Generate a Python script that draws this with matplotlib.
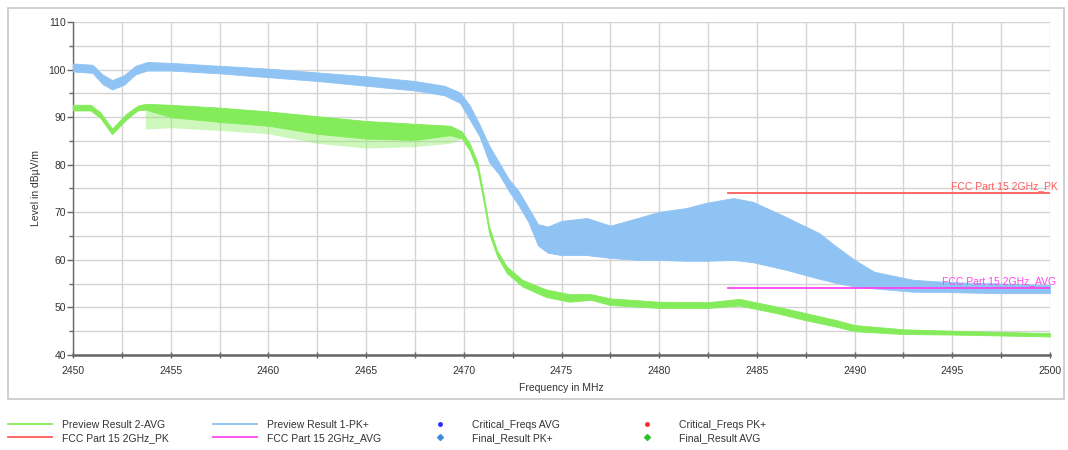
import matplotlib
matplotlib.use("Agg")
import matplotlib.pyplot as plt
from matplotlib.lines import Line2D
from matplotlib.patches import Rectangle
from matplotlib.ticker import MultipleLocator

plt.rcParams['font.family'] = ['Liberation Sans', 'DejaVu Sans']

# ---- data ----
pk_freq = [2450, 2451, 2451.5, 2452.0, 2452.6, 2453.2, 2453.8, 2455, 2457.5, 2460,
           2462.5, 2465, 2467.5, 2469, 2469.8, 2470.3, 2470.8, 2471.3, 2471.8, 2472.3,
           2472.8, 2473.3, 2473.8, 2474.3, 2475, 2476.3, 2477.5, 2478.9, 2480, 2481.4,
           2482.4, 2483.8, 2484.8, 2486.5, 2488.2, 2489, 2490, 2491, 2493, 2495,
           2497.5, 2500]
pk_top = [101.3, 101.0, 99.0, 97.8, 98.8, 100.8, 101.6, 101.4, 100.8, 100.2,
          99.4, 98.6, 97.6, 96.6, 95.2, 92.5, 88.5, 84.0, 80.5, 77.0,
          74.5, 71.0, 67.5, 67.0, 68.2, 68.8, 67.2, 68.8, 70.1, 70.9,
          72.0, 73.0, 72.2, 69.0, 65.6, 63.0, 60.0, 57.5, 55.8, 55.3,
          55.0, 54.7]
pk_bot = [99.6, 99.3, 97.0, 95.8, 96.8, 99.0, 99.8, 99.8, 99.2, 98.4,
          97.6, 96.6, 95.6, 94.6, 93.0, 89.5, 86.0, 80.5, 78.0, 74.5,
          71.5, 68.0, 63.0, 61.5, 61.0, 61.0, 60.4, 60.0, 60.0, 59.8,
          59.8, 60.0, 59.5, 57.9, 56.0, 55.2, 54.4, 54.0, 53.3, 53.2,
          53.0, 53.0]

avg_freq = [2450, 2450.9, 2451.4, 2452.0, 2452.7, 2453.3, 2453.7, 2455, 2457.5, 2460,
            2462.5, 2465, 2467.5, 2469.3, 2469.9, 2470.3, 2470.7, 2471.0, 2471.3, 2471.7,
            2472.2, 2473.0, 2474.2, 2475.4, 2476.5, 2477.5, 2480, 2482.5, 2484.1, 2486,
            2487.5, 2489, 2490, 2492.5, 2495, 2500]
avg_top = [92.6, 92.6, 91.0, 87.6, 90.6, 92.4, 92.8, 92.6, 92.0, 91.2,
           90.2, 89.2, 88.6, 88.2, 87.0, 84.5, 80.5, 74.0, 67.0, 62.0,
           58.6, 55.8, 53.8, 52.8, 52.8, 51.9, 51.2, 51.1, 51.8, 50.2,
           48.8, 47.4, 46.3, 45.4, 45.1, 44.6]
avg_bot = [91.4, 91.4, 89.8, 86.4, 89.4, 91.4, 91.6, 90.0, 89.0, 88.2,
           86.5, 85.5, 85.2, 86.2, 85.5, 83.0, 78.8, 72.5, 65.5, 60.8,
           57.2, 54.4, 52.2, 51.2, 51.6, 50.5, 49.9, 49.9, 50.4, 48.8,
           47.3, 46.0, 45.0, 44.4, 44.3, 43.9]
# lower reach of the downward spikes on the AVG trace
spike_freq = [2453.7, 2455, 2457.5, 2460, 2462.5, 2465, 2467.5, 2469.3, 2469.9]
spike_low = [87.5, 87.8, 87.2, 86.5, 84.5, 83.5, 83.8, 84.5, 85.5]

limit_freq = [2483.5, 2500]
limit_pk = [74, 74]
limit_avg = [54, 54]

x_min, x_max = 2450, 2500
y_min, y_max = 40, 110

# ---- colours ----
c_pk = '#8fc3f4'
c_avg = '#84ec5a'
c_lpk = '#ff5c5c'
c_lavg = '#ff44ee'

fig = plt.figure(figsize=(10.68, 4.5), dpi=100)
fig.patches.append(Rectangle((8/1068, 1-399/450), (1064-8)/1068, (399-8)/450,
                             transform=fig.transFigure, fill=False,
                             edgecolor='#c8c8c8', linewidth=1.2))

ax = fig.add_axes([73/1068, 1-355/450, (1050-73)/1068, (355-22)/450])

ax.fill_between(pk_freq, pk_bot, pk_top, color=c_pk, linewidth=0.6, edgecolor=c_pk, zorder=3)
ax.fill_between(spike_freq, spike_low, avg_top[6:15], color=c_avg,
                alpha=0.4, linewidth=0, zorder=3)
ax.fill_between(avg_freq, avg_bot, avg_top, color=c_avg, linewidth=0.6, edgecolor=c_avg, zorder=4)

ax.plot(limit_freq, limit_pk, color=c_lpk, linewidth=1.3, zorder=5)
ax.plot(limit_freq, limit_avg, color=c_lavg, linewidth=1.3, zorder=5)
ax.text(2500.4, 74.4, 'FCC Part 15 2GHz_PK', color=c_lpk, fontsize=7.5,
        ha='right', va='bottom', clip_on=False, zorder=6)
ax.text(2500.3, 54.4, 'FCC Part 15 2GHz_AVG', color=c_lavg, fontsize=7.5,
        ha='right', va='bottom', clip_on=False, zorder=6)

ax.set_xlim(x_min, x_max)
ax.set_ylim(y_min, y_max)
ax.xaxis.set_major_locator(MultipleLocator(5))
ax.xaxis.set_minor_locator(MultipleLocator(2.5))
ax.yaxis.set_major_locator(MultipleLocator(10))
ax.yaxis.set_minor_locator(MultipleLocator(5))
ax.grid(True, which='both', color='#d4d4d4', linewidth=1.0, zorder=0)
ax.set_axisbelow(True)

for s in ['top', 'right']:
    ax.spines[s].set_visible(False)
ax.spines['left'].set_color('#666666')
ax.spines['left'].set_linewidth(1.0)
ax.spines['bottom'].set_color('#666666')
ax.spines['bottom'].set_linewidth(1.8)

ax.tick_params(axis='both', which='both', colors='#666666', labelcolor='#333333',
               labelsize=7.5, width=1.0)
ax.tick_params(axis='y', which='major', direction='out', length=4, pad=1)
ax.tick_params(axis='y', which='minor', direction='out', length=3)
ax.tick_params(axis='x', which='both', direction='inout', length=4, pad=6)

ax.set_xlabel('Frequency in MHz', fontsize=7.5, color='#333333')
ax.xaxis.set_label_coords(0.5, -0.084)
ax.set_ylabel('Level in dBµV/m', fontsize=7.5, color='#333333')
ax.yaxis.set_label_coords(-0.033, 0.5)

# ---- legend below the frame ----
leg_cols = [
    (8, [Line2D([], [], color=c_avg, lw=1.3), Line2D([], [], color=c_lpk, lw=1.3)],
     ['Preview Result 2-AVG', 'FCC Part 15 2GHz_PK']),
    (213, [Line2D([], [], color=c_pk, lw=1.3), Line2D([], [], color=c_lavg, lw=1.3)],
     ['Preview Result 1-PK+', 'FCC Part 15 2GHz_AVG']),
    (418, [Line2D([], [], color='#2a2aff', lw=0, marker='o', ms=2.5),
           Line2D([], [], color='#3b8fd6', lw=0, marker='D', ms=3)],
     ['Critical_Freqs AVG', 'Final_Result PK+']),
    (625, [Line2D([], [], color='#ff2a2a', lw=0, marker='o', ms=2.5),
           Line2D([], [], color='#2fbf2f', lw=0, marker='D', ms=3)],
     ['Critical_Freqs PK+', 'Final_Result AVG']),
]
for xpix, hs, ls in leg_cols:
    fig.legend(hs, ls, loc='upper left', bbox_to_anchor=(xpix/1068, 1-420/450),
               frameon=False, fontsize=7.5, handlelength=4.2, handletextpad=1.0,
               borderpad=0, borderaxespad=0, labelspacing=0.3, labelcolor='#333333')

fig.savefig('out.png', dpi=100)
